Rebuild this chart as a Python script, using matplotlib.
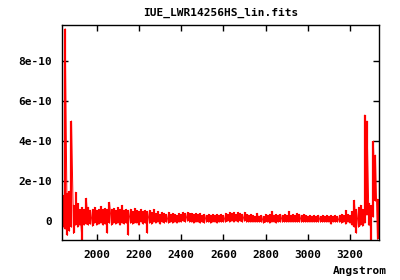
import matplotlib
matplotlib.use("Agg")
import matplotlib.pyplot as plt
import numpy as np

# --- data: 10 A bins, per-bin min / max of the flux (units of 1e-10) ---
wave = np.arange(1840, 3341, 10)

flux_hi = [
    1.3, 9.6, 1.4, 1.5, 5.0, 0.8, 1.45, 0.9, 0.6, 0.7,
    0.6, 1.15, 0.7, 0.55, 0.6, 0.7, 0.55, 0.6, 0.75, 0.6,
    0.65, 0.6, 0.95, 0.6, 0.65, 0.55, 0.7, 0.6, 0.8, 0.55,
    0.6, 0.55, 0.6, 0.5, 0.65, 0.55, 0.5, 0.6, 0.5, 0.55,
    0.5, 0.55, 0.45, 0.6, 0.4, 0.5, 0.35, 0.45, 0.4, 0.35,
    0.45, 0.35, 0.4, 0.35, 0.3, 0.4, 0.35, 0.45, 0.4, 0.45,
    0.4, 0.4, 0.35, 0.4, 0.35, 0.4, 0.3, 0.35, 0.3, 0.35,
    0.3, 0.35, 0.3, 0.35, 0.3, 0.35, 0.3, 0.4, 0.35, 0.45,
    0.4, 0.45, 0.35, 0.45, 0.4, 0.35, 0.45, 0.35, 0.3, 0.35,
    0.3, 0.25, 0.4, 0.25, 0.3, 0.25, 0.35, 0.3, 0.35, 0.5,
    0.3, 0.35, 0.3, 0.35, 0.3, 0.35, 0.3, 0.5, 0.3, 0.35,
    0.3, 0.4, 0.35, 0.3, 0.35, 0.3, 0.25, 0.3, 0.25, 0.3,
    0.25, 0.3, 0.25, 0.3, 0.25, 0.3, 0.25, 0.3, 0.25, 0.3,
    0.25, 0.3, 0.35, 0.3, 0.55, 0.35, 0.3, 0.5, 1.05, 0.6,
    0.7, 0.8, 0.6, 5.3, 5.0, 0.9, 0.8, 4.0, 3.3, 1.1,
    1.9,
]
flux_lo = [
    -0.3, -0.4, -0.7, -0.5, -0.3, -0.6, -0.2, -0.3, -0.2, -1.0,
    -0.2, -0.15, -0.2, -0.15, -0.25, -0.1, -0.2, -0.15, -0.1, -0.2,
    -0.15, -0.6, -0.1, -0.2, -0.1, -0.15, -0.1, -0.2, -0.1, -0.15,
    -0.1, -0.7, -0.1, -0.15, -0.1, -0.1, -0.2, -0.05, -0.15, -0.1,
    -0.6, -0.1, -0.15, -0.05, -0.1, -0.05, -0.15, -0.05, -0.1, -0.05,
    -0.1, -0.05, -0.1, -0.05, -0.1, -0.05, -0.05, 0.0, -0.05, 0.0,
    -0.05, -0.05, -0.1, -0.05, -0.05, -0.1, -0.05, -0.1, -0.05, -0.05,
    -0.1, -0.05, -0.05, -0.1, -0.05, -0.05, -0.05, -0.05, 0.0, -0.05,
    0.0, -0.05, 0.0, -0.05, 0.0, -0.05, 0.0, -0.05, -0.05, -0.05,
    -0.05, -0.05, -0.05, -0.05, -0.05, -0.1, -0.05, -0.05, -0.1, -0.05,
    -0.05, -0.1, -0.05, -0.05, -0.05, -0.05, -0.05, -0.05, -0.05, -0.05,
    -0.05, -0.05, -0.05, -0.05, -0.05, -0.05, -0.05, -0.05, -0.05, -0.05,
    -0.05, -0.05, -0.05, -0.05, -0.05, -0.05, -0.05, -0.15, -0.05, -0.05,
    -0.05, -0.05, -0.1, -0.05, -0.15, -0.05, -0.1, -0.2, -0.3, -0.6,
    -0.3, -0.2, -0.25, -0.1, 0.3, -0.2, -1.0, 0.2, 1.0, -0.9,
    0.5,
]

xticks = [2000, 2200, 2400, 2600, 2800, 3000, 3200]
yticks = [0, 2e-10, 4e-10, 6e-10, 8e-10]
ytick_labels = ["0", "2e-10", "4e-10", "6e-10", "8e-10"]
title = "IUE_LWR14256HS_lin.fits"
xlabel = "Angstrom"


def main() -> None:
    plt.rcParams["font.family"] = "DejaVu Sans Mono"
    plt.rcParams["font.weight"] = "bold"

    fig = plt.figure(figsize=(4.0, 2.8), dpi=100)
    ax = fig.add_axes([0.155, 0.143, 0.7925, 0.766])

    lo = np.asarray(flux_lo) * 1e-10
    hi = np.asarray(flux_hi) * 1e-10
    # each bin drawn as a min..max stroke; neighbours overlap into a solid band
    ax.vlines(wave, lo, hi, color="#ff0000", lw=1.6)
    # thin joins between bins give the ragged gnuplot edge
    x = np.repeat(wave, 2)
    y = np.column_stack([lo, hi]).ravel()
    ax.plot(x, y, color="#ff0000", lw=0.7)

    ax.set_xlim(1835, 3337)
    ax.set_ylim(-0.93e-10, 9.76e-10)
    ax.set_xticks(xticks)
    ax.set_xticklabels([str(t) for t in xticks])
    ax.set_yticks(yticks)
    ax.set_yticklabels(ytick_labels)
    ax.tick_params(direction="in", length=4, width=1, top=True, right=True,
                   labelsize=8, pad=7, colors="black")
    for s in ax.spines.values():
        s.set_linewidth(1.0)

    ax.set_title(title, fontsize=8, fontweight="bold", pad=7)
    fig.text(387 / 400, 1 - 271 / 280, xlabel, ha="right", va="center",
             fontsize=8, fontweight="bold")

    fig.savefig("out.png", dpi=100)


if __name__ == "__main__":
    main()
